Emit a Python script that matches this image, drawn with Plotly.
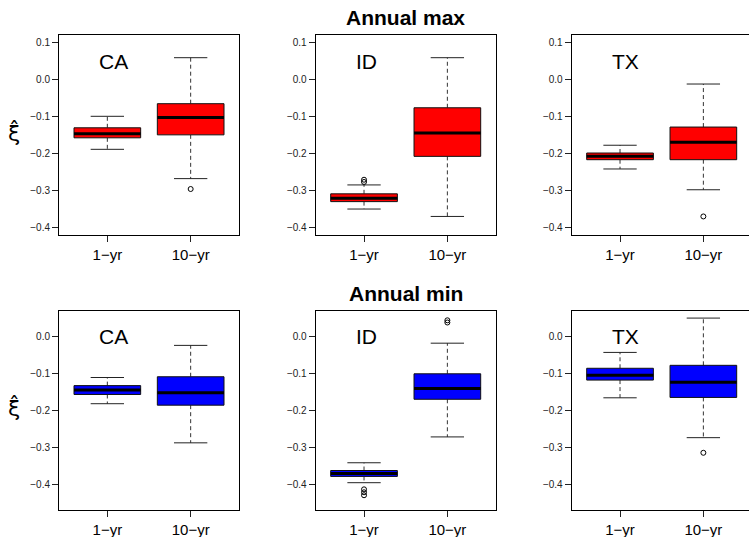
import plotly.graph_objects as go

# ---------------- data ----------------
states = ["CA", "ID", "TX"]
groups = ["1−yr", "10−yr"]
y_ticks = [-0.4, -0.3, -0.2, -0.1, 0.0, 0.1]

# Annual max: per state, [1-yr, 10-yr]
max_lo  = [[-0.189, -0.268], [-0.350, -0.370], [-0.242, -0.298]]
max_q1  = [[-0.158, -0.150], [-0.330, -0.208], [-0.217, -0.217]]
max_med = [[-0.147, -0.103], [-0.321, -0.145], [-0.208, -0.170]]
max_q3  = [[-0.131, -0.066], [-0.309, -0.077], [-0.199, -0.129]]
max_hi  = [[-0.100,  0.058], [-0.285,  0.058], [-0.178, -0.013]]
max_out = [[[], [-0.296]], [[-0.271, -0.277], []], [[], [-0.370]]]

# Annual min
min_lo  = [[-0.182, -0.288], [-0.396, -0.272], [-0.166, -0.274]]
min_q1  = [[-0.157, -0.186], [-0.379, -0.170], [-0.118, -0.165]]
min_med = [[-0.145, -0.152], [-0.371, -0.141], [-0.105, -0.124]]
min_q3  = [[-0.133, -0.109], [-0.363, -0.101], [-0.086, -0.078]]
min_hi  = [[-0.111, -0.024], [-0.342, -0.018], [-0.043,  0.050]]
min_out = [[[], []], [[-0.414, -0.422, -0.430], [0.044, 0.038]], [[], [-0.315]]]

rows = [
    dict(title="Annual max", fill="#FF0000", lo=max_lo, q1=max_q1, med=max_med,
         q3=max_q3, hi=max_hi, out=max_out, yrange=[-0.42, 0.12], label_y=0.047),
    dict(title="Annual min", fill="#0000FF", lo=min_lo, q1=min_q1, med=min_med,
         q3=min_q3, hi=min_hi, out=min_out, yrange=[-0.47, 0.07], label_y=0.0),
]

# ---------------- layout geometry ----------------
W, H = 749, 537
col_px = [(59, 239), (315.7, 495.7), (571.7, 751.7)]
row_px = [(34.7, 235), (310.7, 510)]
BOXW = 0.4
STAP = 0.2
FONT = "Liberation Sans, Arial, sans-serif"

fig = go.Figure()
layout = dict(
    width=W, height=H, margin=dict(l=0, r=0, t=0, b=0),
    paper_bgcolor="white", plot_bgcolor="white", showlegend=False,
    font=dict(family=FONT, color="black"),
)
annotations = []

for r, row in enumerate(rows):
    for c, st in enumerate(states):
        k = r * 3 + c + 1
        xa = "x" if k == 1 else f"x{k}"
        ya = "y" if k == 1 else f"y{k}"
        x0p, x1p = col_px[c]
        xr = [0.42, 2.58]
        if x1p > W:
            xr = [0.42, 0.42 + (W - x0p) / (x1p - x0p) * 2.16]
            x1p = W
        y0p, y1p = row_px[r]
        layout[("xaxis" if k == 1 else f"xaxis{k}")] = dict(
            domain=[x0p / W, x1p / W], range=xr, anchor=ya,
            tickmode="array", tickvals=[1, 2], ticktext=groups,
            ticks="outside", ticklen=6, tickcolor="#222", tickwidth=1,
            showline=True, linecolor="black", linewidth=1, mirror=True,
            showgrid=False, zeroline=False, fixedrange=True,
            tickfont=dict(size=15, color="black", family=FONT),
        )
        layout[("yaxis" if k == 1 else f"yaxis{k}")] = dict(
            domain=[1 - y1p / H, 1 - y0p / H], range=row["yrange"], anchor=xa,
            tickmode="array", tickvals=y_ticks, tickformat=".1f",
            ticks="outside", ticklen=6, tickcolor="#222", tickwidth=1,
            showline=True, linecolor="black", linewidth=1,
            mirror=(col_px[c][1] <= W),
            showgrid=False, zeroline=False, fixedrange=True,
            tickfont=dict(size=10, color="#222", family=FONT),
        )
        for i in range(2):
            xc = i + 1
            lo, q1, med = row["lo"][c][i], row["q1"][c][i], row["med"][c][i]
            q3, hi = row["q3"][c][i], row["hi"][c][i]
            # dashed whiskers
            fig.add_trace(go.Scatter(
                x=[xc, xc, None, xc, xc], y=[q3, hi, None, q1, lo],
                mode="lines", line=dict(color="#333", width=1, dash="4px,3px"),
                xaxis=xa, yaxis=ya, hoverinfo="skip"))
            # staples
            fig.add_trace(go.Scatter(
                x=[xc - STAP, xc + STAP, None, xc - STAP, xc + STAP],
                y=[hi, hi, None, lo, lo],
                mode="lines", line=dict(color="#222", width=1),
                xaxis=xa, yaxis=ya, hoverinfo="skip"))
            # box
            fig.add_trace(go.Scatter(
                x=[xc - BOXW, xc + BOXW, xc + BOXW, xc - BOXW, xc - BOXW],
                y=[q1, q1, q3, q3, q1], mode="lines", fill="toself",
                fillcolor=row["fill"], line=dict(color="#111", width=1),
                xaxis=xa, yaxis=ya, hoverinfo="skip"))
            # median
            fig.add_trace(go.Scatter(
                x=[xc - BOXW, xc + BOXW], y=[med, med], mode="lines",
                line=dict(color="black", width=3),
                xaxis=xa, yaxis=ya, hoverinfo="skip"))
            # outliers
            outs = row["out"][c][i]
            if outs:
                fig.add_trace(go.Scatter(
                    x=[xc] * len(outs), y=outs, mode="markers",
                    marker=dict(symbol="circle-open", size=5,
                                color="black", line=dict(width=1)),
                    xaxis=xa, yaxis=ya, hoverinfo="skip"))
        annotations.append(dict(
            x=0.875, y=row["label_y"], xref=xa, yref=ya, text=st,
            showarrow=False, xanchor="left", yanchor="middle",
            font=dict(size=21, family=FONT, color="black")))
    # row title
    cx = (col_px[1][0] + col_px[1][1]) / 2
    annotations.append(dict(
        x=cx / W, y=1 - (row_px[r][0] - 17.5) / H, xref="paper", yref="paper",
        text=f"<b>{row['title']}</b>", showarrow=False,
        xanchor="center", yanchor="middle",
        font=dict(size=21, family=FONT, color="black")))
    # y axis label: xi with a hat
    yc = (row_px[r][0] + row_px[r][1]) / 2
    annotations.append(dict(
        x=14 / W, y=1 - (yc - 2) / H, xref="paper", yref="paper",
        text="ξ\u0302", showarrow=False, xanchor="center", yanchor="middle",
        font=dict(size=22, family="DejaVu Sans", color="black")))

layout["annotations"] = annotations
fig.update_layout(**layout)
fig.write_html("out.html", config={"displayModeBar": False},
               post_script="document.body.style.margin='0';")
